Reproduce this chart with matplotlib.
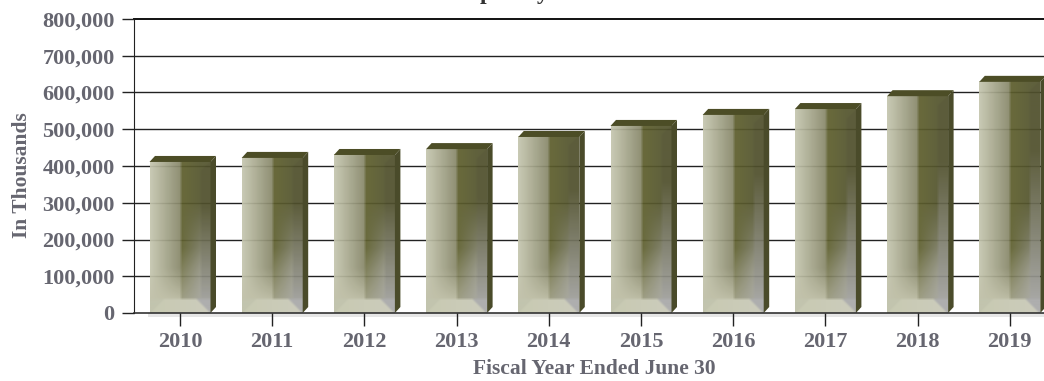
import numpy as np
import matplotlib
matplotlib.use('Agg')
import matplotlib.pyplot as plt
from matplotlib.patches import Polygon, Rectangle

years = ['2010', '2011', '2012', '2013', '2014', '2015', '2016', '2017', '2018', '2019']
values = [411000, 422000, 430000, 446000, 479000, 509000, 539000, 555000, 590000, 629000]
yticks = [0, 100000, 200000, 300000, 400000, 500000, 600000, 700000, 800000]

text_color = '#666670'
plt.rcParams['font.family'] = ['Liberation Serif', 'DejaVu Serif']
plt.rcParams['font.weight'] = 'bold'

fig = plt.figure(figsize=(10.44, 3.81), dpi=100)
ax = fig.add_axes([134/1044, 1-313/381, 910/1044, 294/381])

x_scale = 92.2
y_scale = 294/800000
bar_w = 61/x_scale
dx = 5.5/x_scale
dy = 6/y_scale


def mix(c1, c2, t):
    t = np.clip(t, 0, 1)[..., None]
    return np.array(c1)*(1-t) + np.array(c2)*t


def blur(img, n=3):
    # small box blur, the reference is a soft jpeg
    k = np.ones(n)/n
    pad = np.pad(img, ((n, n), (n, n), (0, 0)), mode='edge')
    for c in range(3):
        pad[..., c] = np.apply_along_axis(np.convolve, 0, pad[..., c], k, mode='same')
        pad[..., c] = np.apply_along_axis(np.convolve, 1, pad[..., c], k, mode='same')
    return pad[n:-n, n:-n]


def face(h, w=61):
    # front of one bar, bevels measured in pixels
    yy, xx = np.mgrid[0:h, 0:w] + 0.5
    up = h - yy
    left = mix((198, 199, 176), (134, 134, 104), xx/31)
    left = mix(left, (190, 190, 165), (45-up)/35)
    right = mix((94, 95, 44), (84, 85, 46), (xx-31)/20)
    right = mix(right, (150, 150, 120), (65-up)/50)
    # lower right goes grey towards the edge
    right = mix(right, (160, 160, 150), (xx-31)/20*(110-up)/95)
    img = np.where((xx < 31)[..., None], left, right)
    # right bevel
    edge = mix((80, 80, 44), (168, 168, 168), (yy-h*0.3)/(h*0.7))
    mask = (xx > 51) & (w-xx < yy+0.5) & (w-xx < up+5)
    img[mask] = edge[mask]
    # bottom bevel
    bottom = mix((196, 198, 172), (200, 200, 184), xx/w)
    mask = (up < 14) & (xx > up) & (w-xx > up)
    img[mask] = bottom[mask]
    mask = (up < 14) & (w-xx <= up)
    img[mask] = np.array((168, 168, 168))
    mask = (up < 14) & (xx <= up)
    img[mask] = np.array((190, 192, 168))
    return blur(img)/255


ax.hlines(yticks[1:-1], -1, 10, color='#222222', lw=1, zorder=1)

for i, v in enumerate(values):
    h = int(round(v*y_scale))
    l = i - bar_w/2
    r = i + bar_w/2
    ax.imshow(face(h), extent=(l, r, 0, v), aspect='auto', zorder=2, alpha=0.93,
              interpolation='bilinear')
    ax.add_patch(Polygon([(l, v), (l+dx, v+dy), (r+dx, v+dy), (r, v)],
                         color='#4c4d26', lw=0, zorder=2))
    ax.add_patch(Polygon([(r, 0), (r+dx, dy), (r+dx, v+dy), (r, v)],
                         color='#4a4b2a', lw=0, zorder=2))

ax.set_xlim(-46/x_scale, 864/x_scale)
ax.set_ylim(0, 800000)

# soft shadow under the base line
ax.add_patch(Rectangle((-0.35, -12000), 11, 12000, color='#e6e6e6', lw=0,
                       clip_on=False, zorder=0.5))

ax.set_yticks(yticks, [f'{t:,}' for t in yticks])
ax.set_xticks(range(len(years)), years)
ax.set_xticks(range(len(years)), minor=True)
ax.tick_params(axis='y', direction='out', length=9, width=1, color='#222222', pad=5,
               labelsize=16, labelcolor=text_color)
ax.tick_params(axis='x', which='major', direction='out', length=9, width=1, color='#222222',
               pad=5, labelsize=16, labelcolor=text_color)
ax.tick_params(axis='x', which='minor', direction='in', length=15, width=1, color='#222222')
ax.set_axisbelow(False)

for s in ['right']:
    ax.spines[s].set_visible(False)
ax.spines['top'].set_linewidth(1.4)
ax.spines['top'].set_color('#111111')
ax.spines['left'].set_color('#222222')
ax.spines['bottom'].set_color('#333333')
ax.spines['bottom'].set_linewidth(1.2)

fig.text(22/1044, 1-175/381, 'In Thousands', rotation=90, ha='center', va='center',
         fontsize=15.5, color=text_color)
fig.text(594/1044, 1-369/381, 'Fiscal Year Ended June 30', ha='center', va='center',
         fontsize=15.5, color=text_color)
# the title is cut off by the top of the image, only two descenders show
fig.text(486/1044, 1+1/381, 'p', ha='center', va='baseline', fontsize=17, color='#333333')
fig.text(543/1044, 1+1/381, 'y', ha='center', va='baseline', fontsize=17, color='#333333')

plt.savefig('out.png', dpi=100)
